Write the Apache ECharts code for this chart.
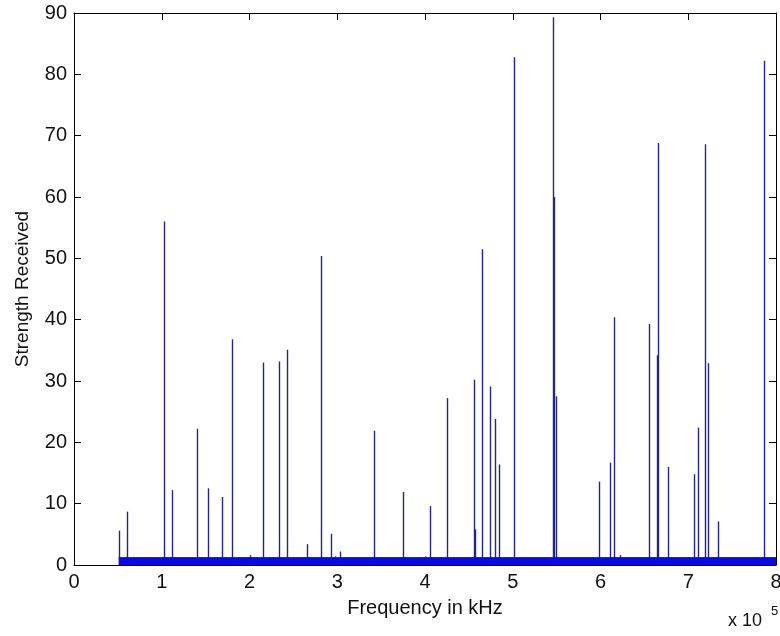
<!DOCTYPE html>
<html>
<head>
<meta charset="utf-8">
<script src="https://cdn.jsdelivr.net/npm/echarts@6/dist/echarts.min.js"></script>
<style>html,body{margin:0;padding:0;background:#fff}#c{width:780px;height:636px}</style>
</head>
<body>
<div id="c"></div>
<script>
// Frequencies (kHz) of the spectral lines and their received strengths
const freqs = [51000, 60000, 103000, 112000, 140000, 153000, 169000, 180000, 215000, 234000,
  243000, 265000, 281000, 293000, 303000, 342000, 375000, 406000, 425000, 456000,
  457000, 465000, 474000, 480000, 484000, 501000, 546000, 547000, 549000, 598000,
  611000, 615000, 655000, 664000, 665000, 677000, 706000, 711000, 719000, 723000,
  734000, 786000,
  200000, 298000, 400000, 622000, 700000];
const strengths = [5.6, 8.7, 56.0, 12.2, 22.2, 12.5, 11.1, 36.8, 33.0, 33.2,
  35.1, 3.4, 50.4, 5.1, 2.2, 21.9, 11.9, 9.6, 27.2, 30.2,
  5.8, 51.5, 29.1, 23.8, 16.4, 82.8, 89.3, 60.0, 27.5, 13.6,
  16.7, 40.4, 39.3, 34.2, 68.8, 16.0, 14.8, 22.4, 68.6, 32.9,
  7.1, 82.2,
  1.6, 1.4, 1.4, 1.6, 1.3];
// Low-level noise floor band
const bandStart = 51000;
const bandEnd = 800000;
const bandLevel = 1.2;
// Axis ticks
const xTicks = [0, 1, 2, 3, 4, 5, 6, 7, 8];
const yTicks = [0, 10, 20, 30, 40, 50, 60, 70, 80, 90];

const stemData = freqs.map((f, i) => [f, strengths[i]]);
const font = 'Liberation Sans, Arial, sans-serif';
const chart = echarts.init(document.getElementById('c'), null, {renderer: 'canvas'});

const tickCommon = {show: true, inside: true, length: 7, lineStyle: {color: '#000', width: 1}};
chart.setOption({
  animation: false,
  backgroundColor: '#fff',
  grid: {left: 74, right: 4, top: 13, bottom: 71, containLabel: false, outerBoundsMode: 'none'},
  xAxis: [{
    type: 'value', min: 0, max: 800000, interval: 100000, position: 'bottom',
    name: 'Frequency in kHz', nameLocation: 'middle', nameGap: 33,
    nameTextStyle: {fontFamily: font, fontSize: 20, color: '#111'},
    axisLine: {show: true, onZero: false, lineStyle: {color: '#000', width: 1}},
    axisTick: tickCommon,
    axisLabel: {fontFamily: font, fontSize: 20, color: '#111', margin: 7,
      formatter: v => String(xTicks[Math.round(v / 100000)])},
    splitLine: {show: false}
  }, {
    type: 'value', min: 0, max: 800000, interval: 100000, position: 'top',
    axisLine: {show: true, onZero: false, lineStyle: {color: '#000', width: 1}},
    axisTick: tickCommon, axisLabel: {show: false}, splitLine: {show: false}
  }],
  yAxis: [{
    type: 'value', min: 0, max: 90, interval: 10, position: 'left',
    name: 'Strength Received', nameLocation: 'middle', nameGap: 42, nameRotate: 90,
    nameTextStyle: {fontFamily: font, fontSize: 19, color: '#111'},
    axisLine: {show: true, onZero: false, lineStyle: {color: '#000', width: 1}},
    axisTick: tickCommon,
    axisLabel: {fontFamily: font, fontSize: 20, color: '#111', margin: 7,
      formatter: v => String(yTicks[Math.round(v / 10)])},
    splitLine: {show: false}
  }, {
    type: 'value', min: 0, max: 90, interval: 10, position: 'right',
    axisLine: {show: true, onZero: false, lineStyle: {color: '#000', width: 1}},
    axisTick: tickCommon, axisLabel: {show: false}, splitLine: {show: false}
  }],
  graphic: [
    {type: 'text', left: 728, top: 612, style: {text: 'x 10', fontFamily: font, fontSize: 18, fill: '#111'}},
    {type: 'text', left: 771, top: 605, style: {text: '5', fontFamily: font, fontSize: 13, fill: '#111'}}
  ],
  series: [{
    type: 'custom',
    xAxisIndex: 0, yAxisIndex: 0,
    data: stemData,
    clip: true,
    renderItem: function (params, api) {
      const p0 = api.coord([api.value(0), 0]);
      const p1 = api.coord([api.value(0), api.value(1)]);
      const x = Math.round(p0[0]) + 0.5;
      return {
        type: 'line',
        shape: {x1: x, y1: p0[1], x2: x, y2: p1[1]},
        style: {stroke: '#262680', lineWidth: 1.4}
      };
    }
  }, {
    type: 'line',
    xAxisIndex: 0, yAxisIndex: 0,
    data: [[bandStart, bandLevel], [bandEnd, bandLevel]],
    showSymbol: false,
    lineStyle: {color: '#0a0ae0', width: 1},
    areaStyle: {color: '#0a0ae0', opacity: 1},
    z: 3
  }]
});
</script>
</body>
</html>
